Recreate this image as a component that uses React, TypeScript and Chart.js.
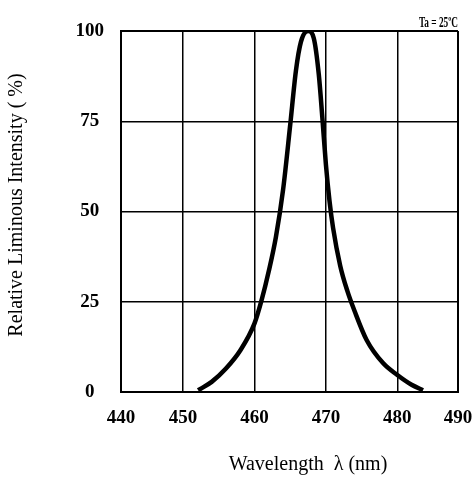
import React, { useEffect, useRef } from "react";
import { Chart, registerables } from "chart.js";

Chart.register(...registerables);

// Spectrum curve (wavelength nm, relative intensity %)
const wavelengthNm = [452.1, 454.0, 456.0, 458.0, 460.0, 461.0, 462.0, 463.0, 464.0, 465.0, 465.8, 466.5, 467.5, 468.3, 469.0, 469.5, 470.0, 470.5, 471.0, 472.0, 473.0, 474.0, 475.7, 478.0, 480.0, 482.0, 483.6];
const intensityPct = [0.5, 2.8, 6.5, 11.5, 19, 25.5, 33.5, 43, 56, 74, 89, 97, 100, 98, 88, 76, 63, 53, 45.5, 35, 28, 22.5, 14.4, 8, 4.7, 2, 0.5];

// X axis: the reference's outer gridlines (labelled 440 / 490) sit at the plot edges
const xTickValues = [441.3, 450, 460, 470, 480, 488.5];
const xTickLabels = ["440", "450", "460", "470", "480", "490"];
const yTickValues = [0, 25, 50, 75, 100];

const xTitle = "Wavelength  \u03bb (nm)";
const yTitle = "Relative Liminous Intensity ( %)";
const condition = "Ta = 25\u00baC";

const SERIF = "'Liberation Serif', 'Times New Roman', serif";

export default function App() {
  const ref = useRef<HTMLCanvasElement | null>(null);

  useEffect(() => {
    if (!ref.current) return;
    const textPlugin = {
      id: "textPlugin",
      afterDraw(chart: any) {
        const ctx = chart.ctx;
        const area = chart.chartArea;
        ctx.save();
        ctx.fillStyle = "#000";
        // condition label
        ctx.font = `bold 14px ${SERIF}`;
        ctx.textAlign = "right";
        ctx.textBaseline = "alphabetic";
        ctx.fillText(condition, area.right, area.top - 4, 39);
        // x title
        ctx.font = `20px ${SERIF}`;
        ctx.textAlign = "center";
        ctx.fillText(xTitle, 308, 470);
        // y title
        ctx.translate(22, 205);
        ctx.rotate(-Math.PI / 2);
        ctx.fillText(yTitle, 0, 0);
        ctx.restore();
      },
    };

    const edgeWidth = (v: number, lo: number, hi: number) =>
      v <= lo + 1e-6 || v >= hi - 1e-6 ? 2 : 1.5;

    const chart = new Chart(ref.current, {
      type: "line",
      data: {
        datasets: [
          {
            data: wavelengthNm.map((x, i) => ({ x, y: intensityPct[i] })),
            borderColor: "#000",
            borderWidth: 4.5,
            pointRadius: 0,
            cubicInterpolationMode: "monotone",
            fill: false,
          },
        ],
      },
      options: {
        responsive: false,
        animation: false,
        devicePixelRatio: 1,
        layout: { padding: { top: 31, right: 15, left: 0, bottom: 0 } },
        plugins: { legend: { display: false }, tooltip: { enabled: false } },
        scales: {
          x: {
            type: "linear",
            min: xTickValues[0],
            max: xTickValues[xTickValues.length - 1],
            afterBuildTicks: (axis: any) => {
              axis.ticks = xTickValues.map((value) => ({ value }));
            },
            afterFit: (axis: any) => {
              axis.height = 87;
              axis.paddingLeft = 0;
              axis.paddingRight = 0;
            },
            ticks: {
              autoSkip: false,
              maxRotation: 0,
              padding: 15,
              color: "#000",
              font: { family: SERIF, size: 19, weight: "bold" },
              callback: (_v: any, i: number) => xTickLabels[i],
            },
            grid: {
              color: "#000",
              drawTicks: false,
              lineWidth: (c: any) => edgeWidth(c.tick ? c.tick.value : 0, xTickValues[0], xTickValues[xTickValues.length - 1]),
            },
            border: { display: true, color: "#000", width: 2 },
          },
          y: {
            type: "linear",
            min: 0,
            max: 100,
            afterBuildTicks: (axis: any) => {
              axis.ticks = yTickValues.map((value) => ({ value }));
            },
            afterFit: (axis: any) => {
              axis.width = 121;
              axis.paddingTop = 0;
              axis.paddingBottom = 0;
            },
            ticks: {
              padding: 17,
              crossAlign: "center",
              color: "#000",
              font: { family: SERIF, size: 19, weight: "bold" },
              callback: (v: any) => String(v),
            },
            grid: {
              color: "#000",
              drawTicks: false,
              lineWidth: (c: any) => edgeWidth(c.tick ? c.tick.value : 0, 0, 100),
            },
            border: { display: true, color: "#000", width: 2 },
          },
        },
      } as any,
      plugins: [textPlugin],
    });
    return () => chart.destroy();
  }, []);

  return (
    <div style={{ position: "fixed", left: 0, top: 0, width: 473, height: 479, background: "#fff" }}>
      <canvas ref={ref} width={473} height={479} style={{ display: "block" }} />
    </div>
  );
}
